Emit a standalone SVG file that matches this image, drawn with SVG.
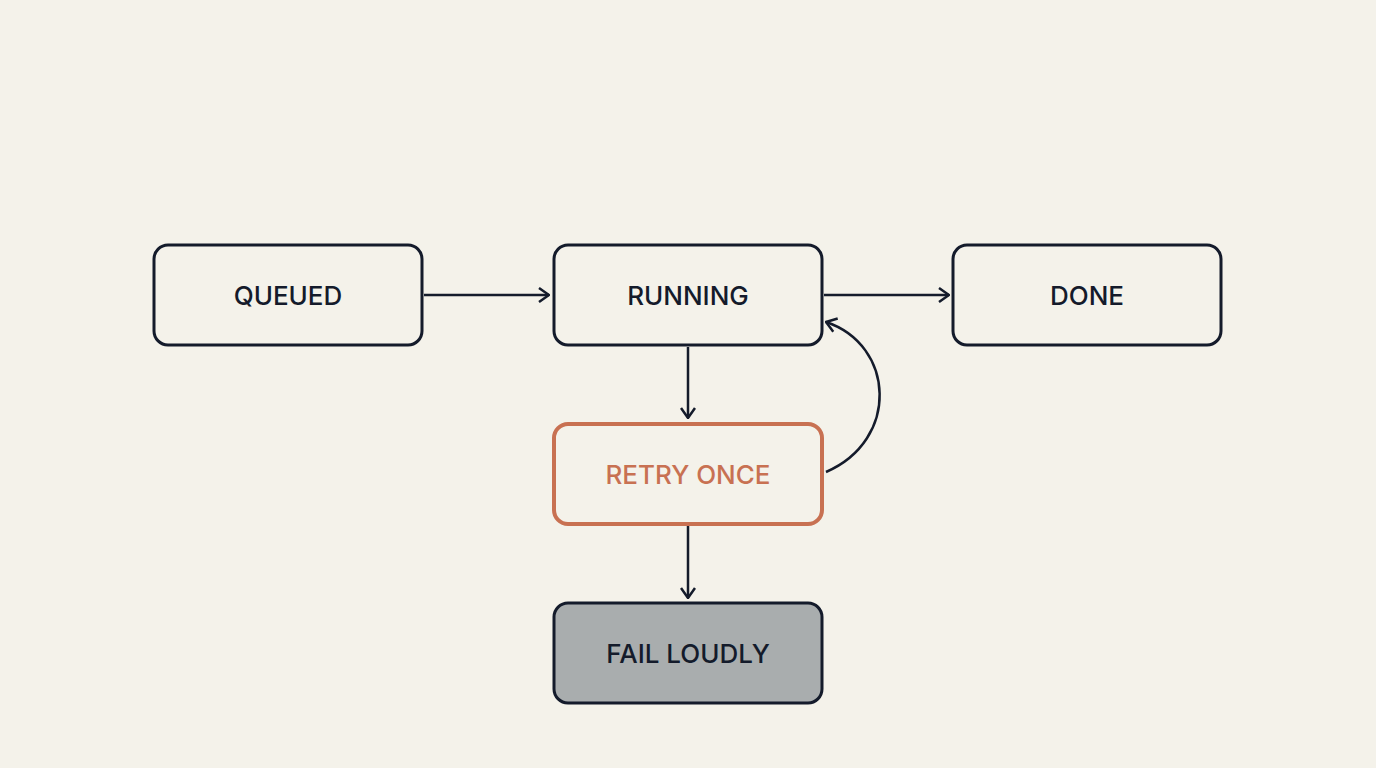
<svg xmlns="http://www.w3.org/2000/svg" width="1376" height="768" viewBox="0 0 1376 768">
<style>
.n{fill:none;stroke:#141b2b;stroke-width:3}
.t{font-family:Inter,"Liberation Sans",sans-serif;font-size:26px;font-weight:500;fill:#141b2b;text-anchor:middle;dominant-baseline:central}
.c{fill:none;stroke:#141b2b;stroke-width:2.5}
</style>
<defs><marker id="a" viewBox="0 0 12 16" refX="11" refY="8" markerWidth="12" markerHeight="16" markerUnits="userSpaceOnUse" orient="auto"><path d="M1 1L11 8L1 15" fill="none" stroke="#141b2b" stroke-width="2.5"/></marker></defs>
<rect width="1376" height="768" fill="#f4f2ea"/>
<g id="queued"><rect class="n" x="154" y="245" width="268" height="100" rx="14"/><text class="t" x="288" y="295">QUEUED</text></g>
<g id="running"><rect class="n" x="554" y="245" width="268" height="100" rx="14"/><text class="t" x="688" y="295">RUNNING</text></g>
<g id="done"><rect class="n" x="953" y="245" width="268" height="100" rx="14"/><text class="t" x="1087" y="295">DONE</text></g>
<g id="retry"><rect x="554" y="424" width="268" height="100" rx="14" fill="none" stroke="#c87152" stroke-width="4"/><text class="t" x="688" y="474" fill="#c87152" style="fill:#c87152">RETRY ONCE</text></g>
<g id="fail"><rect class="n" x="554" y="603" width="268" height="100" rx="14" fill="#a9adae" style="fill:#a9adae"/><text class="t" x="688" y="653">FAIL LOUDLY</text></g>
<g id="connectors">
<path class="c" d="M424 295H549" marker-end="url(#a)"/>
<path class="c" d="M824 295H949" marker-end="url(#a)"/>
<path class="c" d="M688 347V418" marker-end="url(#a)"/>
<path class="c" d="M688 526V598" marker-end="url(#a)"/>
<path class="c" d="M826 472C900 440 895 345 826 322" marker-end="url(#a)"/>
</g>
</svg>
